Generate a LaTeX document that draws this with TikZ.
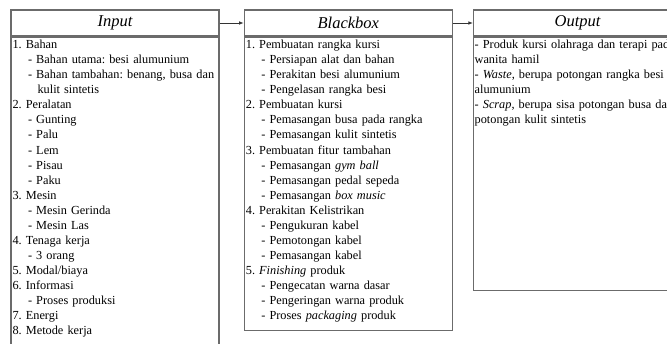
\documentclass[tikz,border=0pt]{standalone}
\usepackage{fontspec}
\setmainfont{Liberation Serif}
\usetikzlibrary{positioning,arrows.meta}
\frenchspacing

\newcommand{\sbi}{\hspace*{15.5pt}- }
\newcommand{\cont}{\hspace*{25pt}}

\begin{document}
\begin{tikzpicture}[x=1pt, y=1pt, >={Latex[length=4.5pt,width=3.5pt]},
    header/.style={rectangle, draw=black!58, line width=1.3pt, minimum width=208pt, minimum height=26pt, inner sep=0pt, font=\fontsize{16.5}{18}\selectfont\itshape},
    frame/.style={rectangle, draw=black!58, line width=1.3pt, minimum width=208pt, inner sep=0pt},
    listtext/.style={text width=240pt, align=left, inner sep=0pt, anchor=base west, font=\fontsize{12.3}{15.05}\selectfont},
    link/.style={->, line width=0.8pt, black!80}]

    \useasboundingbox (0,-343) rectangle (667,0);
    \clip (0,-343) rectangle (667,0);

    % headers
    \node [header] (inhdr) at (115,-23) {Input};
    \node [header, right=24pt of inhdr] (bbhdr) {Blackbox};
    \node [header, right=20pt of bbhdr] (outhdr) {Output};

    % frames
    \node [frame, below=0pt of inhdr, minimum height=320pt] (inbody) {};
    \node [frame, below=0pt of bbhdr, minimum height=293pt] (bbbody) {};
    \node [frame, below=0pt of outhdr, minimum height=253pt] (outbody) {};

    % lists
    \node [listtext] (intext) at ([shift={(2pt,-12pt)}]inbody.north west) {1. Bahan\\
        \sbi Bahan utama: besi alumunium\\
        \sbi Bahan tambahan: benang, busa dan\\
        \cont kulit sintetis\\
        2. Peralatan\\
        \sbi Gunting\\
        \sbi Palu\\
        \sbi Lem\\
        \sbi Pisau\\
        \sbi Paku\\
        3. Mesin\\
        \sbi Mesin Gerinda\\
        \sbi Mesin Las\\
        4. Tenaga kerja\\
        \sbi 3 orang\\
        5. Modal/biaya\\
        6. Informasi\\
        \sbi Proses produksi\\
        7. Energi\\
        8. Metode kerja};
    \node [listtext] (bbtext) at ([shift={(2pt,-12pt)}]bbbody.north west) {1. Pembuatan rangka kursi\\
        \sbi Persiapan alat dan bahan\\
        \sbi Perakitan besi alumunium\\
        \sbi Pengelasan rangka besi\\
        2. Pembuatan kursi\\
        \sbi Pemasangan busa pada rangka\\
        \sbi Pemasangan kulit sintetis\\
        3. Pembuatan fitur tambahan\\
        \sbi Pemasangan \textit{gym ball}\\
        \sbi Pemasangan pedal sepeda\\
        \sbi Pemasangan \textit{box music}\\
        4. Perakitan Kelistrikan\\
        \sbi Pengukuran kabel\\
        \sbi Pemotongan kabel\\
        \sbi Pemasangan kabel\\
        5. \textit{Finishing} produk\\
        \sbi Pengecatan warna dasar\\
        \sbi Pengeringan warna produk\\
        \sbi Proses \textit{packaging} produk};
    \node [listtext] (outtext) at ([shift={(1.5pt,-12pt)}]outbody.north west) {- Produk kursi olahraga dan terapi pada\\
        wanita hamil\\
        - \textit{Waste}, berupa potongan rangka besi\\
        alumunium\\
        - \textit{Scrap}, berupa sisa potongan busa dan\\
        potongan kulit sintetis};

    \draw [link] (inhdr) -- (bbhdr);
    \draw [link] (bbhdr) -- (outhdr);
\end{tikzpicture}
\end{document}
